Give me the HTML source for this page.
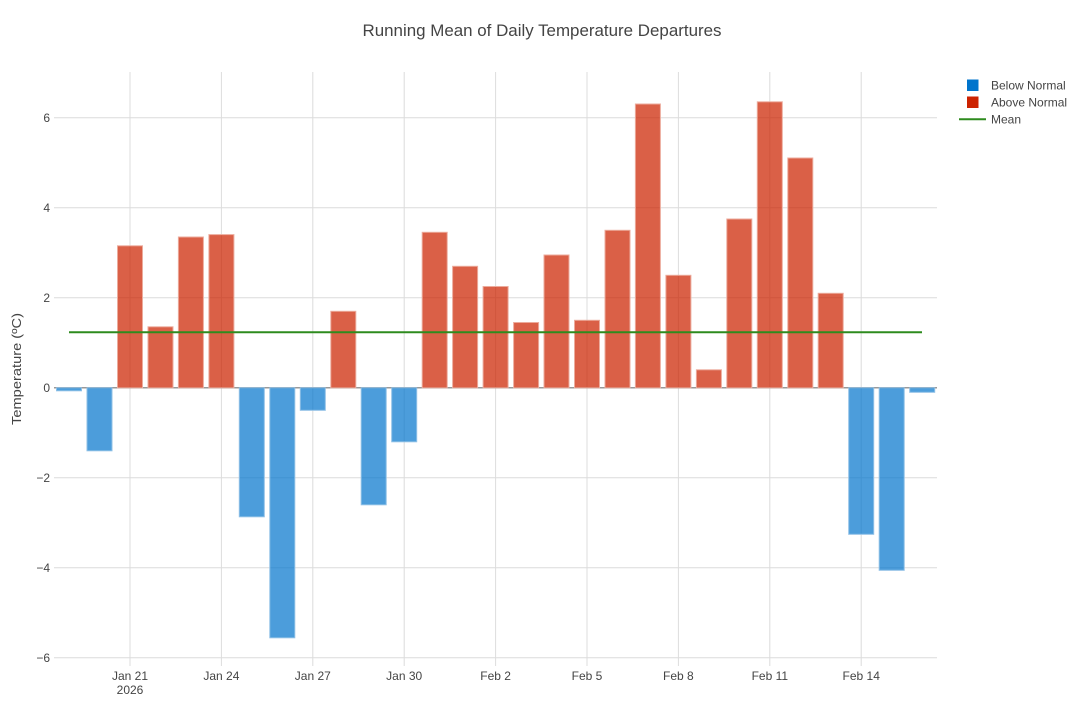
<!DOCTYPE html>
<html><head><meta charset="utf-8"><style>
html,body{margin:0;padding:0;background:#fff;}
svg{display:block;font-family:"Liberation Sans",Arial,sans-serif;}
</style></head><body>
<svg width="1084" height="722" viewBox="0 0 1084 722" xmlns="http://www.w3.org/2000/svg">
<rect width="1084" height="722" fill="#fff"/>
<text x="542" y="36" text-anchor="middle" font-size="16.5" fill="#444" textLength="359" lengthAdjust="spacingAndGlyphs">Running Mean of Daily Temperature Departures</text>
<g stroke="#dcdcdc" stroke-width="1">
<line x1="54" y1="117.8" x2="937" y2="117.8"/>
<line x1="54" y1="207.8" x2="937" y2="207.8"/>
<line x1="54" y1="297.8" x2="937" y2="297.8"/>
<line x1="54" y1="477.8" x2="937" y2="477.8"/>
<line x1="54" y1="567.8" x2="937" y2="567.8"/>
<line x1="54" y1="657.8" x2="937" y2="657.8"/>
<line x1="130" y1="72" x2="130" y2="666"/>
<line x1="221.4" y1="72" x2="221.4" y2="666"/>
<line x1="312.8" y1="72" x2="312.8" y2="666"/>
<line x1="404.2" y1="72" x2="404.2" y2="666"/>
<line x1="495.6" y1="72" x2="495.6" y2="666"/>
<line x1="587" y1="72" x2="587" y2="666"/>
<line x1="678.4" y1="72" x2="678.4" y2="666"/>
<line x1="769.8" y1="72" x2="769.8" y2="666"/>
<line x1="861.2" y1="72" x2="861.2" y2="666"/>
</g>
<line x1="54" y1="387.8" x2="937" y2="387.8" stroke="#999" stroke-width="1.5"/>
<g stroke-width="1">
<g fill="#0074cc" fill-opacity="0.7" stroke="#8fc0e6">
<rect x="56.5" y="387.8" width="25" height="3"/>
<rect x="87" y="387.8" width="25" height="63"/>
<rect x="239.3" y="387.8" width="25" height="129"/>
<rect x="269.8" y="387.8" width="25" height="250"/>
<rect x="300.3" y="387.8" width="25" height="22.5"/>
<rect x="361.2" y="387.8" width="25" height="117"/>
<rect x="391.7" y="387.8" width="25" height="54"/>
<rect x="848.7" y="387.8" width="25" height="146.5"/>
<rect x="879.2" y="387.8" width="25" height="182.5"/>
<rect x="909.7" y="387.8" width="25" height="4.5"/>
</g>
<g fill="#cc2200" fill-opacity="0.72" stroke="#ecab9c">
<rect x="117.5" y="245.8" width="25" height="142"/>
<rect x="148" y="326.8" width="25" height="61"/>
<rect x="178.4" y="237" width="25" height="150.8"/>
<rect x="208.9" y="234.6" width="25" height="153.2"/>
<rect x="330.8" y="311.3" width="25" height="76.5"/>
<rect x="422.2" y="232.3" width="25" height="155.5"/>
<rect x="452.6" y="266.3" width="25" height="121.5"/>
<rect x="483.1" y="286.5" width="25" height="101.3"/>
<rect x="513.6" y="322.5" width="25" height="65.3"/>
<rect x="544" y="255" width="25" height="132.8"/>
<rect x="574.5" y="320.3" width="25" height="67.5"/>
<rect x="605" y="230.3" width="25" height="157.5"/>
<rect x="635.4" y="104" width="25" height="283.8"/>
<rect x="665.9" y="275.3" width="25" height="112.5"/>
<rect x="696.4" y="369.8" width="25" height="18"/>
<rect x="726.8" y="219" width="25" height="168.8"/>
<rect x="757.3" y="101.8" width="25" height="286"/>
<rect x="787.8" y="158" width="25" height="229.8"/>
<rect x="818.2" y="293.3" width="25" height="94.5"/>
</g>
</g>
<line x1="69" y1="332.3" x2="922" y2="332.3" stroke="#2e8b1e" stroke-width="2"/>
<g font-size="12" fill="#444" text-anchor="end">
<text x="50" y="122">6</text>
<text x="50" y="212">4</text>
<text x="50" y="302">2</text>
<text x="50" y="392">0</text>
<text x="50" y="482">−2</text>
<text x="50" y="572">−4</text>
<text x="50" y="662">−6</text>
</g>
<g font-size="12" fill="#444" text-anchor="middle">
<text x="130" y="680">Jan 21</text>
<text x="130" y="694">2026</text>
<text x="221.4" y="680">Jan 24</text>
<text x="312.8" y="680">Jan 27</text>
<text x="404.2" y="680">Jan 30</text>
<text x="495.6" y="680">Feb 2</text>
<text x="587" y="680">Feb 5</text>
<text x="678.4" y="680">Feb 8</text>
<text x="769.8" y="680">Feb 11</text>
<text x="861.2" y="680">Feb 14</text>
</g>
<text transform="translate(21,369) rotate(-90)" text-anchor="middle" font-size="13" fill="#444" textLength="112" lengthAdjust="spacingAndGlyphs">Temperature (ºC)</text>
<rect x="967" y="79.5" width="11.5" height="11.5" fill="#0074cc"/>
<text x="991" y="89.5" font-size="12" fill="#444">Below Normal</text>
<rect x="967" y="96.5" width="11.5" height="11.5" fill="#cc2200"/>
<text x="991" y="106.5" font-size="12" fill="#444">Above Normal</text>
<line x1="959" y1="119.3" x2="986" y2="119.3" stroke="#2e8b1e" stroke-width="2"/>
<text x="991" y="123.5" font-size="12" fill="#444">Mean</text>
</svg>
</body></html>
